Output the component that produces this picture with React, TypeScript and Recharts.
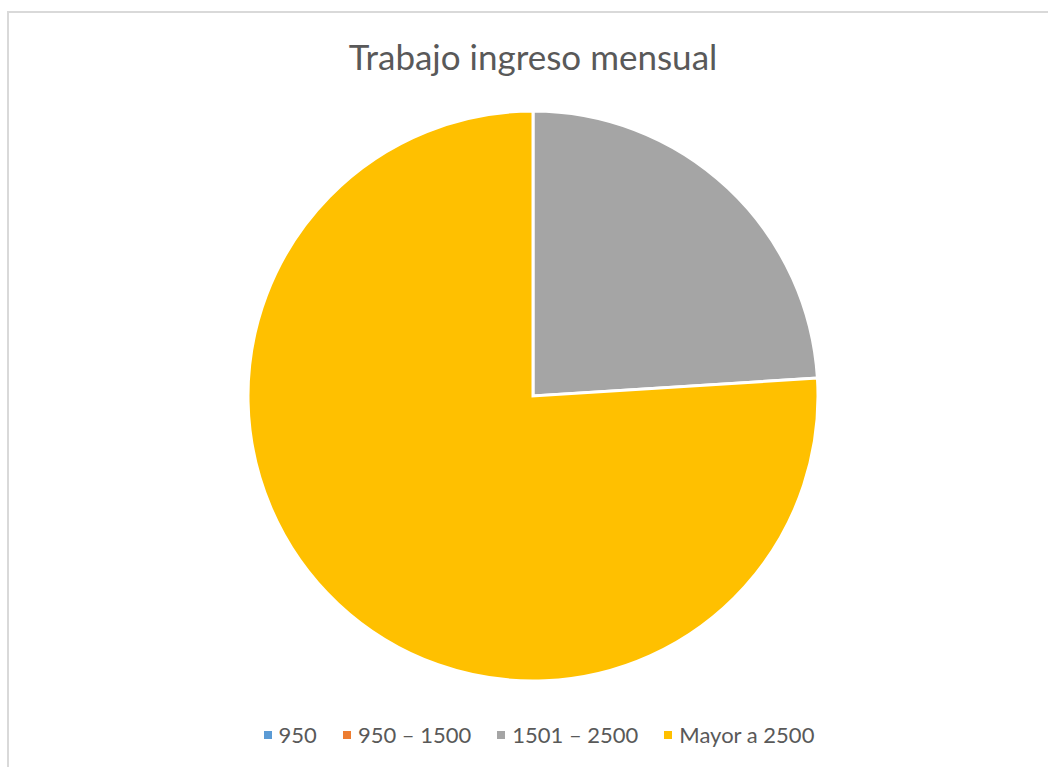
import { PieChart, Pie, Cell, Legend } from "recharts";

const categories = ["950", "950 – 1500", "1501 – 2500", "Mayor a 2500"];
const values = [0, 0, 24, 76];
const colors = ["#5B9BD5", "#ED7D31", "#A5A5A5", "#FFC000"];

const data = categories.map((name, i) => ({ name, value: values[i] }));

function LegendContent() {
  return (
    <div style={{ display: "flex", justifyContent: "center", alignItems: "center", gap: 26 }}>
      {categories.map((c, i) => (
        <div key={c} style={{ display: "flex", alignItems: "center" }}>
          <span style={{ width: 8, height: 8, background: colors[i], marginRight: 7 }} />
          <span style={{ fontSize: 22, color: "#595959" }}>{c}</span>
        </div>
      ))}
    </div>
  );
}

export default function App() {
  return (
    <div style={{ position: "absolute", left: 0, top: 0, width: 1048, height: 767, overflow: "hidden", background: "#fff", fontFamily: "Lato, sans-serif" }}>
      <div style={{ position: "absolute", left: 7, top: 11, width: 1100, height: 800, border: "2px solid #d9d9d9", boxSizing: "border-box" }} />
      <div style={{ position: "absolute", left: 0, top: 35, width: 1066, textAlign: "center", fontSize: 35, color: "#595959" }}>
        Trabajo ingreso mensual
      </div>
      <div style={{ position: "absolute", left: 0, top: 0 }}>
        <PieChart width={1048} height={767} margin={{ top: 0, right: 0, bottom: 0, left: 0 }}>
          <Pie
            data={data}
            dataKey="value"
            nameKey="name"
            cx={533}
            cy={396}
            outerRadius={285}
            startAngle={90}
            endAngle={-270}
            stroke="#fff"
            strokeWidth={3}
            isAnimationActive={false}
          >
            {data.map((d, i) => (
              <Cell key={d.name} fill={colors[i]} />
            ))}
          </Pie>
          <Legend
            content={<LegendContent />}
            layout="horizontal"
            verticalAlign="bottom"
            wrapperStyle={{ left: 0, top: 721, bottom: "auto", width: 1078 }}
          />
        </PieChart>
      </div>
    </div>
  );
}
